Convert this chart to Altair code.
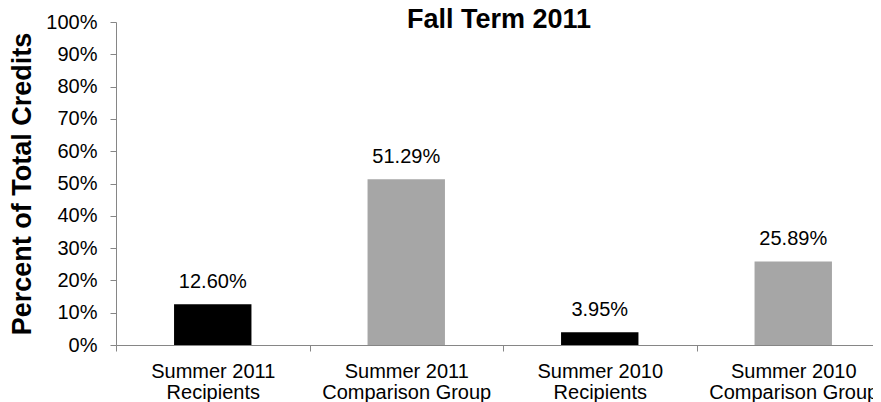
import altair as alt
import pandas as pd

categories = ["Summer 2011|Recipients", "Summer 2011|Comparison Group",
              "Summer 2010|Recipients", "Summer 2010|Comparison Group"]
groups = ["Recipients", "Comparison", "Recipients", "Comparison"]
values = [0.1260, 0.5129, 0.0395, 0.2589]
y_ticks = [0, 0.1, 0.2, 0.3, 0.4, 0.5, 0.6, 0.7, 0.8, 0.9, 1.0]
chart_title = "Fall Term 2011"

df = pd.DataFrame({"cat": categories, "group": groups, "value": values})

FONT = "Liberation Sans"
AXIS_GRAY = "#868686"

x_enc = alt.X(
    "cat:N",
    sort=categories,
    scale=alt.Scale(paddingInner=0, paddingOuter=0, range=[0, 774]),
    axis=alt.Axis(
        title=None,
        labelExpr="split(datum.label, '|')",
        labelFont=FONT, labelFontSize=20, labelColor="#000000",
        labelAngle=0, labelBaseline="alphabetic", labelLineHeight=21,
        labelPadding=26, tickSize=6, tickBand="extent",
        domainColor=AXIS_GRAY, tickColor=AXIS_GRAY, grid=False,
        labelOverlap=False,
    ),
)

y_enc = alt.Y(
    "value:Q",
    scale=alt.Scale(domain=[0, 1], nice=False),
    axis=alt.Axis(
        title="Percent of Total Credits",
        values=y_ticks, format=".0%", labelOverlap=False,
        labelFont=FONT, labelFontSize=20, labelColor="#000000",
        labelPadding=13, tickSize=6,
        titleFont=FONT, titleFontSize=27, titleFontWeight="bold", titleColor="#000000",
        titleAngle=-90, titleX=-94, titleY=161.5, titleBaseline="middle", titleAlign="center",
        domainColor=AXIS_GRAY, tickColor=AXIS_GRAY, grid=False,
    ),
)

bars = alt.Chart(df).mark_bar(width=alt.RelativeBandSize(0.4)).encode(
    x=x_enc,
    y=y_enc,
    color=alt.Color("group:N",
                    scale=alt.Scale(domain=["Recipients", "Comparison"],
                                    range=["#000000", "#A6A6A6"]),
                    legend=None),
)

labels = alt.Chart(df).mark_text(
    font=FONT, fontSize=20, color="#000000", baseline="alphabetic", dy=-16
).encode(
    x=x_enc,
    y=y_enc,
    text=alt.Text("value:Q", format=".2%"),
)

title_mark = alt.Chart(pd.DataFrame({"t": [chart_title]})).mark_text(
    font=FONT, fontSize=27, fontWeight="bold", color="#000000",
    baseline="alphabetic", align="center",
).encode(
    text="t:N",
    x=alt.value(383),
    y=alt.value(6),
)

chart = alt.layer(bars, labels, title_mark).properties(
    width=757,
    height=323,
    autosize=alt.AutoSizeParams(type="none"),
    padding={"left": 108, "top": 14, "right": 0, "bottom": 57},
).configure_view(stroke=None)

chart.save("out.html", embed_options={"renderer": "svg", "actions": False})
